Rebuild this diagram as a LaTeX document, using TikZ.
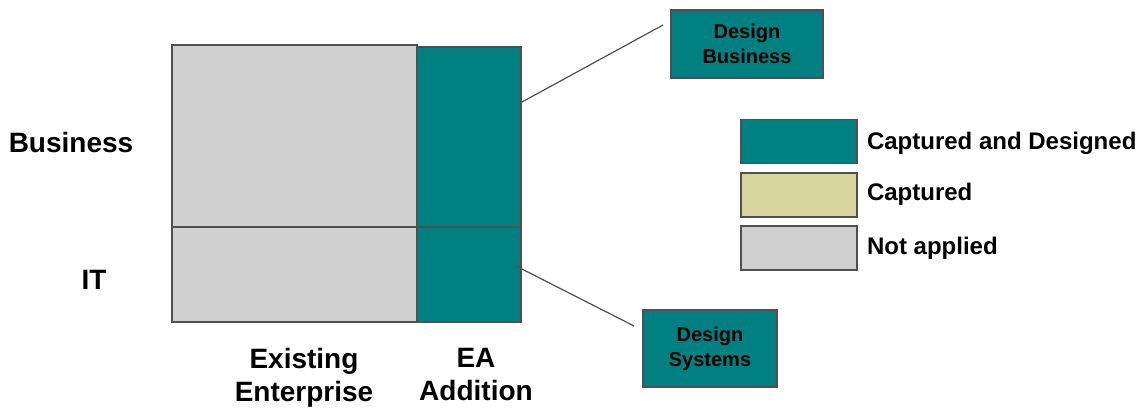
\documentclass[tikz,border=0pt]{standalone}
\usepackage{fontspec}
\setmainfont{Liberation Sans}
\usetikzlibrary{positioning}

\begin{document}
\begin{tikzpicture}[x=0.5pt, y=-0.5pt, font=\bfseries]

    % Define colors
    \definecolor{ea_teal}{RGB}{0, 128, 128}     % Captured and Designed
    \definecolor{ea_khaki}{RGB}{214, 214, 158}  % Captured
    \definecolor{ea_gray}{RGB}{208, 208, 208}   % Not applied
    \definecolor{ea_line}{RGB}{80, 80, 80}

    \tikzset{
        cell/.style={draw=ea_line, line width=0.6pt, inner sep=0pt},
        designbox/.style={cell, fill=ea_teal, align=center, font=\bfseries\fontsize{10}{12.5}\selectfont},
        keybox/.style={cell, minimum width=58pt, minimum height=22pt},
        keytext/.style={anchor=west, font=\bfseries\fontsize{12}{14}\selectfont},
        axislabel/.style={align=center, font=\bfseries\fontsize{14}{16.5}\selectfont},
        callout/.style={draw=ea_line, line width=0.6pt}
    }

    \useasboundingbox (0,0) rectangle (1148,412);

    % Matrix
    \node[cell, fill=ea_gray, minimum width=122.5pt, minimum height=91pt] (biz_old) at (294.5,136) {};
    \node[cell, fill=ea_gray, minimum width=122.5pt, minimum height=47.5pt] (it_old) at (294.5,274.5) {};
    \node[cell, fill=ea_teal, minimum width=52pt, minimum height=90pt] (biz_ea) at (469,137) {};
    \node[cell, fill=ea_teal, minimum width=52pt, minimum height=47.5pt] (it_ea) at (469,274.5) {};

    % Row and column labels
    \node[axislabel] (row_biz) at (71,142) {Business};
    \node[axislabel] (row_it) at (94,280) {IT};
    \node[axislabel] (col_old) at (304,378) {Existing\\Enterprise};
    \node[axislabel] (col_ea) at (476,375) {EA\\Addition};

    % Callouts
    \node[designbox, minimum width=76pt, minimum height=34pt] (dbiz) at (747,44) {Design\\Business};
    \node[designbox, minimum width=67pt, minimum height=38.5pt] (dsys) at (710,348.5) {\raisebox{2pt}{\parbox{60pt}{\centering Design\\Systems}}};

    \coordinate (biz_pt) at (522,102);
    \coordinate (dbiz_pt) at (663,25);
    \coordinate (it_pt) at (516,266);
    \coordinate (dsys_pt) at (634,326);
    \draw[callout] (biz_pt) -- (dbiz_pt);
    \draw[callout] (it_pt) -- (dsys_pt);

    % Legend
    \node[keybox, fill=ea_teal] (key_cd) at (799,141.5) {};
    \node[keybox, fill=ea_khaki] (key_c) at (799,195) {};
    \node[keybox, fill=ea_gray] (key_na) at (799,248) {};
    \node[keytext] at (860,143) {Captured and Designed};
    \node[keytext] at (860,194) {Captured};
    \node[keytext] at (860,248) {Not applied};

\end{tikzpicture}
\end{document}
